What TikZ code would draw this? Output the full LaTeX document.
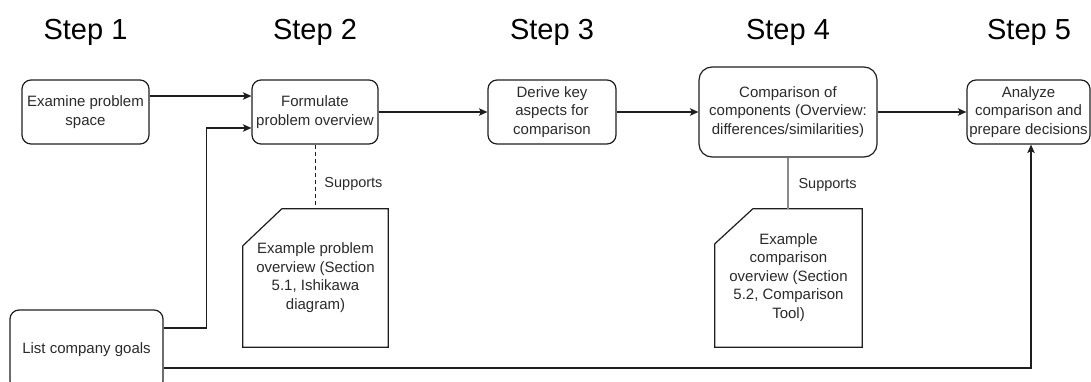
\documentclass[tikz,border=0pt]{standalone}
\usepackage{fontspec}
\setmainfont{Liberation Sans}
\usetikzlibrary{arrows.meta,calc}

\definecolor{ink}{HTML}{2A2A2A}
\definecolor{wire}{HTML}{1E1E1E}
\definecolor{softwire}{HTML}{8A8A8A}

\tikzset{
  stepbox/.style={draw=wire, line width=1.2pt, rounded corners=9pt, align=center,
    text=ink, font=\fontsize{15}{18.5}\selectfont, inner sep=0pt},
  bigbox/.style={stepbox, rounded corners=13pt},
  docnode/.style={align=center, text=ink, font=\fontsize{15}{18.5}\selectfont, inner sep=0pt,
    text depth=4pt},
  docline/.style={draw=wire, line width=1.2pt, line join=miter},
  flow/.style={draw=wire, line width=1.2pt, -{Stealth[length=8.5pt,width=7.5pt,inset=2pt]}},
  support/.style={draw=wire, line width=0.9pt, dash pattern=on 4pt off 3pt},
  softsupport/.style={draw=softwire, line width=1.1pt},
  lbl/.style={text=ink, font=\fontsize{14.5}{17}\selectfont, inner sep=0pt},
  heading/.style={text=black, font=\fontsize{29}{34}\selectfont, inner sep=0pt, anchor=base},
}

\begin{document}
\begin{tikzpicture}[x=1pt, y=-1pt]
  \useasboundingbox (0,0) rectangle (1091,381);
  \clip (0,0) rectangle (1091,381);

  % column headings
  \node[heading] (h1) at (85.5,39) {Step 1};
  \node[heading] (h2) at (315,39)  {Step 2};
  \node[heading] (h3) at (552,39)  {Step 3};
  \node[heading] (h4) at (788,39)  {Step 4};
  \node[heading] (h5) at (1029,39) {Step 5};

  % process boxes
  \node[stepbox, minimum width=127pt, minimum height=64pt] (b1) at (85.5,112)
    {Examine problem\\space};
  \node[stepbox, minimum width=126pt, minimum height=64pt] (b2) at (315,112)
    {Formulate\\problem overview};
  \node[stepbox, minimum width=128pt, minimum height=64pt] (b3) at (552,112)
    {Derive key\\aspects for\\comparison};
  \node[bigbox, minimum width=178pt, minimum height=90pt] (b4) at (788,112)
    {Comparison of\\components (Overview:\\differences/similarities)};
  \node[stepbox, minimum width=123pt, minimum height=64pt] (b5) at (1028.5,112)
    {Analyze\\comparison and\\prepare decisions};
  \node[stepbox, minimum width=153pt, minimum height=80pt] (b6) at (86.5,350)
    {List company goals};

  % supporting documents
  \node[docnode, minimum width=145pt, minimum height=138pt] (d1) at (315.5,278)
    {Example problem\\overview (Section\\5.1, Ishikawa\\diagram)};
  \node[docnode, minimum width=147pt, minimum height=138pt] (d2) at (788.5,278)
    {Example\\comparison\\overview (Section\\5.2, Comparison\\Tool)};
  \draw[docline] ([xshift=39pt]d1.north west) -- (d1.north east) -- (d1.south east)
    -- (d1.south west) -- ([yshift=-37pt]d1.north west) -- cycle;
  \draw[docline] ([xshift=38pt]d2.north west) -- (d2.north east) -- (d2.south east)
    -- (d2.south west) -- ([yshift=-35pt]d2.north west) -- cycle;

  % main flow
  \draw[flow] ([yshift=16pt]b1.east) -- ([yshift=16pt]b2.west);
  \draw[flow] ([yshift=22pt]b6.east) -| ([xshift=-45pt,yshift=-16pt]b2.west)
    -- ([yshift=-16pt]b2.west);
  \draw[flow] (b2.east) -- (b3.west);
  \draw[flow] (b3.east) -- (b4.west);
  \draw[flow] (b4.east) -- (b5.west);
  \draw[flow] ([yshift=-18pt]b6.east) -| ([xshift=2.5pt]b5.south);

  % support links
  \draw[support] (b2.south) -- node[lbl, pos=0.62, right=9pt] (s1) {Supports} (b2.south |- d1.north);
  \draw[softsupport] (b4.south) -- node[lbl, pos=0.53, right=10pt] (s2) {Supports} (b4.south |- d2.north);
\end{tikzpicture}
\end{document}
